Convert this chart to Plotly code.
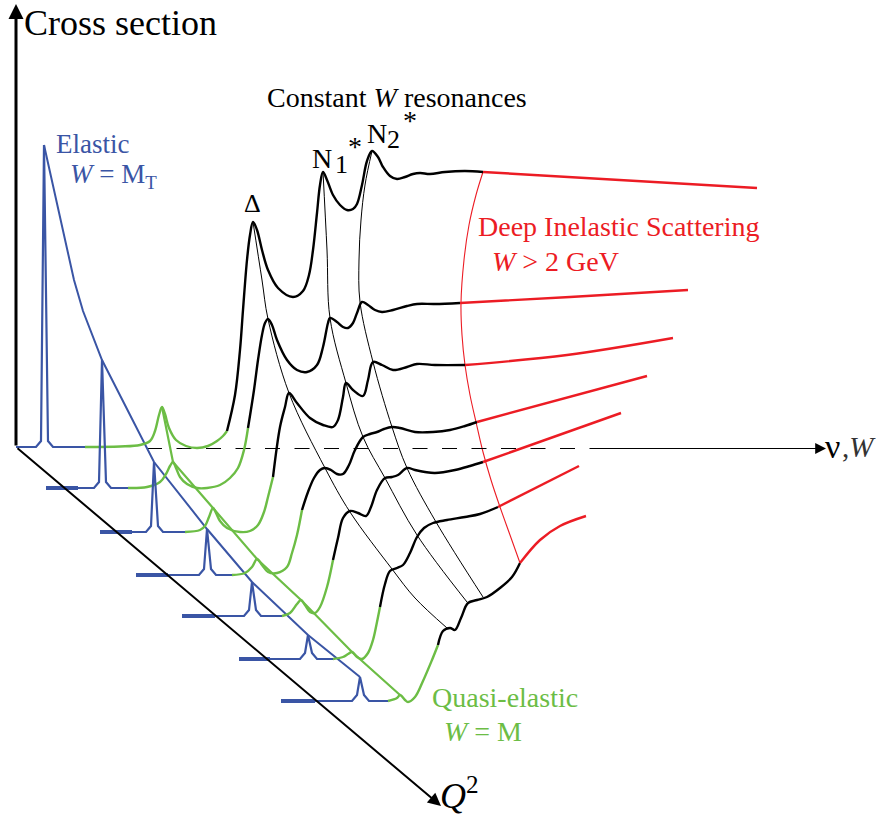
import plotly.graph_objects as go

# ---------------- data (diagram coordinates, y grows downward) ----------------
SLICE_BASE_Y = [447, 488, 532, 575, 616, 659, 701]
SLICE_START_X = [16, 46, 100, 136, 182, 239, 281]
LEAD_END_X = [16, 78, 132, 168, 215, 270, 315]
ELASTIC_X = [44, 102, 154, 207, 252, 308, 360]
ELASTIC_TOP = [145, 360, 462, 529, 582, 635, 677]
QE_START_X = [85, 128, 185, 232, 282, 333, 388]

BLUE_ENV_X = [44, 74, 83, 102, 154, 207, 252, 308, 360]
BLUE_ENV_Y = [145, 280, 311, 360, 462, 529, 582, 635, 677]

GREEN_ENV_X = [162, 173, 213, 257, 301, 352, 400]
GREEN_ENV_Y = [407, 462, 508, 559, 600, 652, 695]

QE_X = [
    [85, 120, 140, 150, 155, 159, 162, 165, 169, 176, 186, 197, 208, 217, 223, 227],
    [128, 147, 160, 166, 170, 173, 176, 180, 187, 197, 207, 220, 230, 238, 244, 248],
    [185, 200, 205, 209, 213, 216, 220, 227, 240, 250, 258, 264, 268, 273],
    [232, 245, 252, 257, 262, 268, 277, 287, 292, 297, 302],
    [282, 290, 297, 301, 305, 310, 315, 320, 327, 333],
    [333, 343, 348, 352, 357, 362, 368, 373, 377, 380],
    [388, 397, 400, 405, 408, 415, 423, 432, 438],
]
QE_Y = [
    [447, 446.5, 445, 441, 431, 415, 407, 414, 428, 440, 446, 448, 446, 441, 436, 431],
    [488, 487, 482, 474, 466, 462, 468, 477, 484, 488, 488, 485, 478, 468, 450, 428],
    [532, 530, 526, 517, 508, 513, 521, 528, 532, 531, 525, 512, 497, 477],
    [575, 573, 567, 559, 565, 572, 573, 567, 553, 535, 510],
    [616, 613, 604, 600, 605, 612, 613, 607, 587, 560],
    [659, 657, 654, 652, 657, 659, 653, 640, 622, 607],
    [701, 698, 695, 700, 702, 697, 681, 660, 645],
]

RES_X = [
    [227, 235, 240, 243, 247, 250, 253, 257, 262, 268, 278, 293, 303, 309, 313, 317, 320,
     323, 327, 333, 340, 347, 353, 357, 362, 367, 372, 378, 383, 390, 397, 405, 413, 420,
     430, 445, 465, 483],
    [248, 254, 258, 262, 265, 268, 272, 277, 287, 297, 307, 317, 323, 328, 330, 337, 343,
     348, 353, 357, 362, 368, 375, 382, 393, 407, 417, 435, 460],
    [273, 280, 285, 289, 297, 310, 323, 333, 338, 343, 346, 353, 363, 368, 373, 382, 393,
     407, 417, 435, 465],
    [302, 308, 314, 320, 325, 331, 337, 343, 349, 355, 363, 370, 377, 384, 392, 400, 415,
     433, 450, 465, 477],
    [333, 338, 343, 350, 358, 366, 371, 377, 385, 392, 398, 407, 415, 425, 435, 455, 470, 483],
    [380, 385, 390, 397, 403, 410, 417, 424, 433, 447, 465, 480, 498],
    [438, 443, 450, 455, 461, 468, 477, 487, 500, 512, 520],
]
RES_Y = [
    [431, 395, 350, 310, 260, 235, 222, 230, 250, 270, 288, 297, 291, 275, 250, 213, 185,
     172, 180, 195, 205, 210, 209, 204, 185, 161, 151, 157, 167, 176, 179, 177, 174, 173,
     174, 172, 171, 172],
    [428, 390, 360, 335, 323, 319, 325, 340, 360, 370, 372, 365, 347, 323, 318, 322, 327,
     328, 323, 313, 302, 305, 310, 312, 310, 306, 304, 304, 303],
    [477, 427, 407, 393, 403, 418, 425, 427, 420, 397, 383, 390, 396, 380, 362, 365, 370,
     367, 364, 365, 365],
    [510, 492, 478, 470, 468, 470, 474, 474, 465, 450, 437, 434, 432, 429, 427, 428, 432,
     432, 430, 426, 422],
    [560, 538, 518, 511, 513, 516, 507, 490, 478, 477, 475, 468, 470, 472, 473, 470, 466, 462],
    [607, 584, 571, 568, 565, 553, 537, 528, 523, 520, 517, 514, 507],
    [645, 631, 628, 630, 618, 603, 600, 597, 588, 577, 563],
]

DIS_X = [
    [483, 757],
    [460, 570, 688],
    [465, 567, 673],
    [477, 647],
    [483, 621],
    [498, 579],
    [520, 540, 560, 586],
]
DIS_Y = [
    [172, 188],
    [303, 297, 290],
    [365, 355, 338],
    [422, 376],
    [462, 413],
    [507, 466],
    [563, 540, 526, 516],
]

DELTA_LINE_X = [253, 262, 268, 289, 325, 350, 392, 415, 447]
DELTA_LINE_Y = [222, 280, 319, 393, 468, 512, 569, 598, 628]
N1_LINE_X = [323, 327, 330, 346, 363, 385, 417, 467]
N1_LINE_Y = [172, 250, 318, 383, 437, 478, 535, 602]
N2_LINE_X = [372, 365, 361, 359, 360, 373, 392, 407, 436, 483]
N2_LINE_Y = [151, 185, 220, 260, 302, 362, 427, 468, 522, 597]
W2_LINE_X = [483, 476, 469, 464, 461, 462, 465, 470, 476, 483, 491, 500, 510, 520]
W2_LINE_Y = [172, 195, 225, 260, 303, 335, 365, 395, 422, 452, 480, 507, 535, 563]

AXIS_ORIGIN = (16, 447)
AXIS_V_TOP = 4
AXIS_H_Y = 448.5
AXIS_H_DASH = (147, 575)
AXIS_H_SOLID = (588, 826)
AXIS_Q_END = (441, 806)

BLUE = "#3a55a5"
GREEN = "#6cbd45"
RED = "#ec1c24"
BLACK = "#000000"
FONT = "Liberation Serif"

fig = go.Figure()


def add_line(xs, ys, color, width, shape="spline", dash=None):
    fig.add_trace(go.Scatter(
        x=list(xs), y=list(ys), mode="lines",
        line=dict(color=color, width=width, shape=shape, dash=dash),
        hoverinfo="skip", showlegend=False))


# thin constant-W lines (behind)
add_line(DELTA_LINE_X, DELTA_LINE_Y, BLACK, 1.0)
add_line(N1_LINE_X, N1_LINE_Y, BLACK, 1.0)
add_line(N2_LINE_X, N2_LINE_Y, BLACK, 1.0)
add_line(W2_LINE_X, W2_LINE_Y, RED, 1.1)

# horizontal axis (dashed part)
add_line(AXIS_H_DASH, [AXIS_H_Y, AXIS_H_Y], BLACK, 1.2, shape="linear", dash="15px,14.5px")

# envelopes
add_line(BLUE_ENV_X, BLUE_ENV_Y, BLUE, 2.0, shape="linear")
add_line(GREEN_ENV_X, GREEN_ENV_Y, GREEN, 2.2, shape="linear")

for i, b in enumerate(SLICE_BASE_Y):
    if LEAD_END_X[i] > SLICE_START_X[i]:
        add_line([SLICE_START_X[i], LEAD_END_X[i]], [b, b], BLUE, 4.0, shape="linear")
    xp, top = ELASTIC_X[i], ELASTIC_TOP[i]
    bx = [LEAD_END_X[i], xp - 8, xp - 3, xp, xp + 4, xp + 9, QE_START_X[i]]
    by = [b, b, b - 6, top, b - 6, b, b]
    add_line(bx, by, BLUE, 2.2, shape="linear")
    add_line(QE_X[i], QE_Y[i], GREEN, 2.4)
    add_line(RES_X[i], RES_Y[i], BLACK, 2.4)
    add_line(DIS_X[i], DIS_Y[i], RED, 2.4)

# axes with arrowheads
ox, oy = AXIS_ORIGIN
fig.add_annotation(x=ox, y=AXIS_V_TOP, ax=ox, ay=oy, xref="x", yref="y", axref="x", ayref="y",
                   text="", showarrow=True, arrowhead=2, arrowsize=1.0, arrowwidth=3, arrowcolor=BLACK)
fig.add_annotation(x=AXIS_H_SOLID[1], y=AXIS_H_Y, ax=AXIS_H_SOLID[0], ay=AXIS_H_Y,
                   xref="x", yref="y", axref="x", ayref="y",
                   text="", showarrow=True, arrowhead=2, arrowsize=1.8, arrowwidth=1.2, arrowcolor=BLACK)
fig.add_annotation(x=AXIS_Q_END[0], y=AXIS_Q_END[1], ax=ox, ay=oy, xref="x", yref="y", axref="x", ayref="y",
                   text="", showarrow=True, arrowhead=2, arrowsize=1.3, arrowwidth=2, arrowcolor=BLACK)


def label(x, y, text, size, color=BLACK, xanchor="left"):
    fig.add_annotation(x=x, y=y, xref="x", yref="y", text=text, showarrow=False,
                       xanchor=xanchor, yanchor="middle", borderpad=0,
                       font=dict(family=FONT, size=size, color=color))


label(23, 23, "Cross section", 36)
label(266, 97, "Constant <i>W</i> resonances", 28)
label(55, 144, "Elastic", 27, BLUE)
label(69, 176, "<i>W</i> = M<sub>T</sub>", 27, BLUE)
label(252, 203, "Δ", 26, xanchor="center")
label(311, 158, "N", 28)
label(334, 164, "1", 26)
label(355, 146, "*", 28, xanchor="center")
label(366, 133, "N", 28)
label(386, 139, "2", 26)
label(410, 120, "*", 28, xanchor="center")
label(477, 226, "Deep Inelastic Scattering", 28, RED)
label(491, 261, "<i>W</i> > 2 GeV", 28, RED)
label(431, 697, "Quasi-elastic", 28, GREEN)
label(443, 731, "<i>W</i> = M", 28, GREEN)
label(824, 446, "ν", 34)
label(841, 447, ",<i>W</i>", 29, "#333333")
label(439, 793, "<i>Q</i><sup>2</sup>", 36)

fig.update_layout(
    width=876, height=818,
    margin=dict(l=0, r=0, t=0, b=0),
    paper_bgcolor="white", plot_bgcolor="white",
    showlegend=False,
    xaxis=dict(range=[0, 876], visible=False, fixedrange=True),
    yaxis=dict(range=[818, 0], visible=False, fixedrange=True),
)

fig.write_html(
    "out.html",
    config={"displayModeBar": False, "staticPlot": True},
    post_script="document.body.style.margin='0px';document.body.style.overflow='hidden';",
)
